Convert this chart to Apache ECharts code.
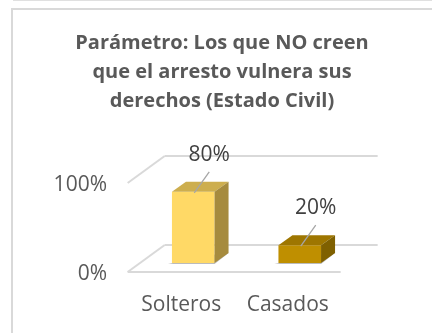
<!DOCTYPE html>
<html><head><meta charset="utf-8">
<script src="https://cdn.jsdelivr.net/npm/echarts@6/dist/echarts.min.js"></script>
<style>html,body{margin:0;padding:0;background:#fff}#c{width:432px;height:333px}</style>
</head><body><div id="c"></div>
<script>
const titleText = 'Parámetro: Los que NO creen\nque el arresto vulnera sus\nderechos (Estado Civil)';
const categories = ['Solteros', 'Casados'];
const values = [0.8, 0.2];
const yTicks = [0, 1];
const yTickLabels = ['0%', '100%'];
const frontColors = ['#FFD966', '#BF8F00'];
const topColors = ['#CDAE4E', '#9E7600'];
const sideColors = ['#A68B3E', '#7F6000'];

const DX = 37, DY = -27, F = 1 / 3, BDX = 14, BDY = -10;
const GRID_COLOR = '#D9D9D9';
const FONT = '"Open Sans", "Liberation Sans", sans-serif';

function renderFloor(params, api) {
  const cs = params.coordSys;
  const L = cs.x, R = cs.x + cs.width;
  const fx = -F * DX, fy = -F * DY, bx = (1 - F) * DX, by = (1 - F) * DY;
  const st = { stroke: GRID_COLOR, lineWidth: 2 };
  const ch = [];
  yTicks.forEach(v => {
    const y = api.coord([0, v])[1];
    ch.push({ type: 'line', shape: { x1: L + fx, y1: y + fy, x2: L + bx, y2: y + by }, style: st });
    ch.push({ type: 'line', shape: { x1: L + bx, y1: y + by, x2: R + bx, y2: y + by }, style: st });
    if (v === 0) ch.push({ type: 'line', shape: { x1: L + fx, y1: y + fy, x2: R + fx, y2: y + fy }, style: st });
  });
  return { type: 'group', children: ch };
}

function renderBar(params, api) {
  const i = api.value(0), v = api.value(1);
  const top = api.coord([i, v]), base = api.coord([i, 0]);
  const w = api.size([1, 0])[0] * 0.4;
  const x0 = top[0] - w / 2, x1 = top[0] + w / 2, yt = top[1], yb = base[1];
  const idx = params.dataIndex;
  return {
    type: 'group', children: [
      { type: 'polygon', shape: { points: [[x0 - 4, yb + 1], [x1, yb + 1], [x1 + BDX, yb + BDY], [x1 + BDX - 6, yb + BDY]] }, style: { fill: 'rgba(60,60,60,0.35)' } },
      { type: 'rect', shape: { x: x0, y: yt, width: w, height: yb - yt }, style: { fill: frontColors[idx] } },
      { type: 'polygon', shape: { points: [[x0, yt], [x0 + BDX, yt + BDY], [x1 + BDX, yt + BDY], [x1, yt]] }, style: { fill: topColors[idx] } },
      { type: 'polygon', shape: { points: [[x1, yt], [x1 + BDX, yt + BDY], [x1 + BDX, yb + BDY], [x1, yb]] }, style: { fill: sideColors[idx] } },
      { type: 'line', shape: { x1: top[0] + 16, y1: yt - 20, x2: top[0] + 1, y2: yt + 1 }, style: { stroke: '#A6A6A6', lineWidth: 1.3 } },
      { type: 'text', x: top[0] + 16, y: yt - 37, style: { text: Math.round(v * 100) + '%', fill: '#404040', font: '21px ' + FONT, align: 'center', verticalAlign: 'middle' } }
    ]
  };
}

const chart = echarts.init(document.getElementById('c'), null, { renderer: 'canvas' });
chart.setOption({
  backgroundColor: '#ffffff',
  animation: false,
  title: {
    text: titleText, left: 222, textAlign: 'center', top: 29, padding: 0,
    textStyle: { fontSize: 20, fontWeight: 'bold', color: '#595959', fontFamily: FONT, lineHeight: 29 }
  },
  graphic: [
    { type: 'rect', shape: { x: 12, y: 9, width: 440, height: 340 }, style: { fill: 'none', stroke: '#D9D9D9', lineWidth: 2 }, silent: true },
    { type: 'line', shape: { x1: 13, y1: 0.5, x2: 432, y2: 0.5 }, style: { stroke: '#E0E0E0', lineWidth: 1 }, silent: true }
  ],
  grid: { left: 140, right: 79, top: 174, bottom: 70, containLabel: false, outerBoundsMode: 'none' },
  xAxis: {
    type: 'category', data: categories,
    axisLine: { show: false }, axisTick: { show: false }, splitLine: { show: false },
    axisLabel: { interval: 0, hideOverlap: false, fontSize: 21, color: '#595959', fontFamily: FONT, margin: 32, padding: [0, 24, 0, 0] }
  },
  yAxis: {
    type: 'value', min: 0, max: 1, interval: 1,
    axisLine: { show: false }, axisTick: { show: false }, splitLine: { show: false },
    axisLabel: { fontSize: 21, color: '#595959', fontFamily: FONT, margin: 33, verticalAlign: 'top', lineHeight: 22,
      formatter: v => yTickLabels[yTicks.indexOf(v)] }
  },
  series: [
    { type: 'custom', renderItem: renderFloor, data: [[0, 0]], z: 1, silent: true },
    { type: 'custom', renderItem: renderBar, data: values.map((v, i) => [i, v]), z: 2, silent: true }
  ]
});
</script></body></html>
